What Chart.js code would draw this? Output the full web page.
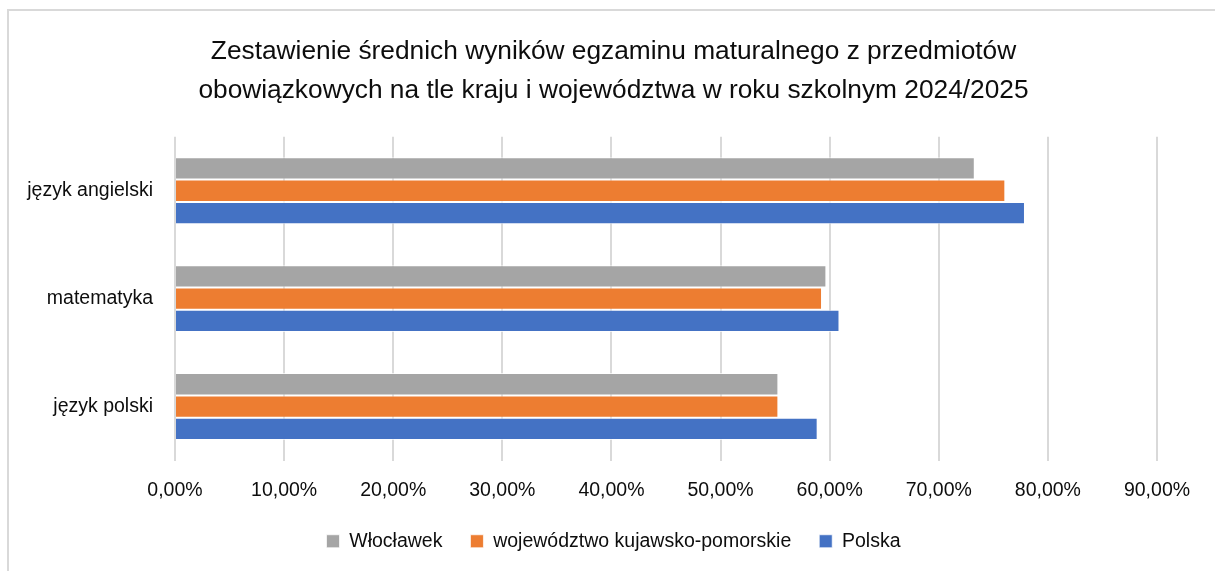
<!DOCTYPE html>
<html>
<head>
<meta charset="utf-8">
<script src="https://cdn.jsdelivr.net/npm/chart.js@4"></script>
<style>
  body { margin: 0; background: #fff; }
  #frame { position: absolute; left: 7px; top: 9px; width: 1300px; height: 700px; border-left: 2px solid #d9d9d9; border-top: 2px solid #d9d9d9; }
  #chart { position: absolute; left: 0; top: 0; }
</style>
</head>
<body>
<div id="frame"></div>
<canvas id="chart" width="1215" height="571"></canvas>
<script>
        // dane (w %)
        const subjects = ['język angielski', 'matematyka', 'język polski'];
        const wloclawek = [73.3, 59.7, 55.3];
        const wojewodztwo = [76.1, 59.3, 55.3];
        const polska = [77.9, 60.9, 58.9];
        const xTicks = [0, 10, 20, 30, 40, 50, 60, 70, 80, 90];

        Chart.defaults.font.family = '"Liberation Sans", Arial, sans-serif';
        Chart.defaults.color = '#0d0d0d';

        const ctx = document.getElementById('chart').getContext('2d');
        new Chart(ctx, {
            type: 'bar',
            data: {
                labels: subjects,
                datasets: [{
                    label: 'Włocławek',
                    data: wloclawek,
                    backgroundColor: '#a5a5a5',
                    borderColor: 'rgba(255,255,255,0.7)',
                    borderWidth: 1
                }, {
                    label: 'województwo kujawsko-pomorskie',
                    data: wojewodztwo,
                    backgroundColor: '#ed7d31',
                    borderColor: 'rgba(255,255,255,0.7)',
                    borderWidth: 1
                }, {
                    label: 'Polska',
                    data: polska,
                    backgroundColor: '#4472c4',
                    borderColor: 'rgba(255,255,255,0.7)',
                    borderWidth: 1
                }]
            },
            options: {
                responsive: false,
                animation: false,
                indexAxis: 'y',
                layout: { padding: { left: 12, right: 0, top: 0, bottom: 10 } },
                datasets: { bar: { categoryPercentage: 0.62, barPercentage: 1 } },
                plugins: {
                    tooltip: { enabled: false },
                    title: {
                        display: true,
                        text: ['Zestawienie średnich wyników egzaminu maturalnego z przedmiotów',
                               'obowiązkowych na tle kraju i województwa w roku szkolnym 2024/2025'],
                        color: '#0d0d0d',
                        font: { size: 26.3, weight: 'normal', lineHeight: 1.46 },
                        padding: { top: 33, bottom: 27 }
                    },
                    legend: {
                        position: 'bottom',
                        labels: {
                            boxWidth: 13,
                            boxHeight: 13,
                            padding: 28,
                            font: { size: 19.5 }
                        }
                    }
                },
                scales: {
                    x: {
                        min: 0,
                        max: 90,
                        afterBuildTicks: axis => { axis.ticks = xTicks.map(v => ({ value: v })); },
                        grid: { color: '#d9d9d9', lineWidth: 2, drawTicks: false },
                        border: { display: false },
                        ticks: {
                            padding: 18,
                            font: { size: 19.5 },
                            callback: v => v.toFixed(2).replace('.', ',') + '%'
                        },
                        afterFit: axis => { axis.height = 43; }
                    },
                    y: {
                        grid: { display: false, drawTicks: false },
                        border: { display: false },
                        ticks: { padding: 22, font: { size: 19.5 } },
                        afterFit: axis => { axis.width = 163; }
                    },
                    // pusta oś po prawej, tylko rezerwuje miejsce
                    yRight: {
                        position: 'right',
                        type: 'linear',
                        grid: { display: false, drawTicks: false },
                        border: { display: false },
                        ticks: { display: false },
                        afterFit: axis => { axis.width = 58; }
                    }
                }
            }
        });
</script>
</body>
</html>
